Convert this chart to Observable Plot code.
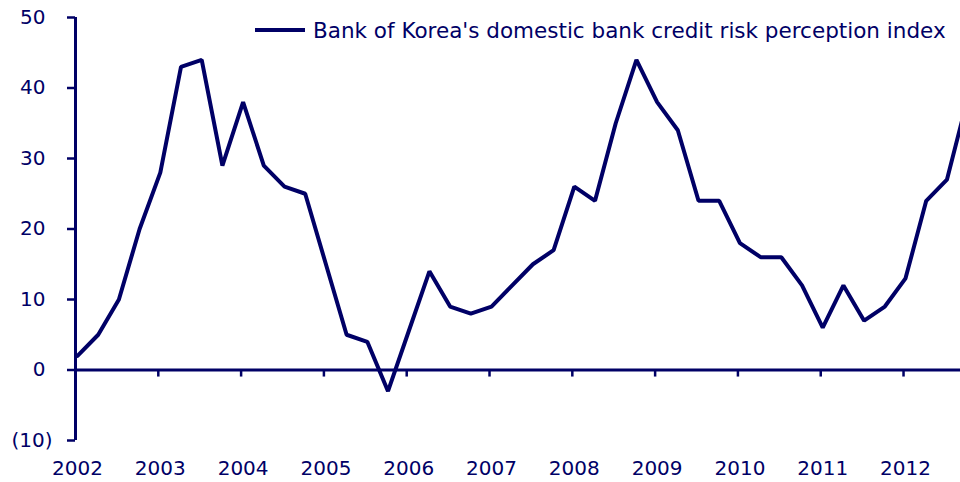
<!DOCTYPE html>
<html>
<head>
<meta charset="utf-8">
<script src="https://cdn.jsdelivr.net/npm/d3@7"></script>
<script src="https://cdn.jsdelivr.net/npm/@observablehq/plot@0.6"></script>
<style>
  html, body { margin: 0; padding: 0; background: #fff; }
  #wrap { position: relative; width: 960px; height: 482px; }
  #legend { position: absolute; left: 255px; top: 17px; height: 26px; display: flex; align-items: center;
            font-family: "DejaVu Sans", Verdana, sans-serif; font-size: 21.5px; color: #000066; white-space: nowrap; }
  #legend svg { margin-right: 8px; }
</style>
</head>
<body>
<div id="wrap">
  <div id="chart"></div>
  <div id="legend"><svg width="50" height="6"><line x1="0" y1="3" x2="50" y2="3" stroke="#000066" stroke-width="4"/></svg><span id="legtext">Bank of Korea's domestic bank credit risk perception index</span></div>
</div>
<script>
// Quarterly, 2002 Q1 – 2012 Q4
const startYear = 2002;
const seriesName = "Bank of Korea's domestic bank credit risk perception index";
const values = [
  2, 5, 10, 20,
  28, 43, 44, 29,
  38, 29, 26, 25,
  15, 5, 4, -3,
  5.5, 14, 9, 8,
  9, 12, 15, 17,
  26, 24, 35, 44,
  38, 34, 24, 24,
  18, 16, 16, 12,
  6, 12, 7, 9,
  13, 24, 27, 38.5
];
const yearTicks = [2002, 2003, 2004, 2005, 2006, 2007, 2008, 2009, 2010, 2011, 2012];
const yTicksPos = [0, 10, 20, 30, 40, 50];
const yTicksNeg = [-10];

const data = values.map((v, i) => ({ t: startYear + i / 4, v }));
const navy = "#000066";

const chart = Plot.plot({
  width: 960,
  height: 482,
  marginLeft: 75,
  marginRight: 0,
  marginTop: 17,
  marginBottom: 42,
  style: { fontFamily: "DejaVu Sans, Verdana, sans-serif", fontSize: "20px", color: navy, background: "white", overflow: "visible" },
  x: { type: "linear", domain: [2002, 2012.688], axis: null },
  y: { domain: [-10, 50], axis: null },
  marks: [
    Plot.ruleY([0], { stroke: navy, strokeWidth: 3 }),
    Plot.ruleX(yearTicks.slice(1), { y1: 0, y2: -1, stroke: navy, strokeWidth: 2.5 }),
    Plot.line(data, { x: "t", y: "v", stroke: navy, strokeWidth: 4, strokeLinejoin: "miter", clip: true, dx: 2 }),
    Plot.ruleX([2002], { stroke: navy, strokeWidth: 3 }),
    Plot.axisY({ ticks: yTicksPos, label: null, fontSize: 20, tickSize: 8, tickPadding: 22, stroke: navy, strokeWidth: 2.5, fill: navy, tickFormat: d => `${d}` }),
    Plot.axisY({ ticks: yTicksNeg, label: null, fontSize: 20, tickSize: 8, tickPadding: 15, stroke: navy, strokeWidth: 2.5, fill: navy, tickFormat: d => `(${-d})` }),
    Plot.axisX({ ticks: yearTicks, label: null, fontSize: 20, tickSize: 0, tickPadding: 20, fill: navy, tickFormat: d => `${d}`, dx: 2 })
  ]
});
document.getElementById("chart").appendChild(chart);
</script>
</body>
</html>
